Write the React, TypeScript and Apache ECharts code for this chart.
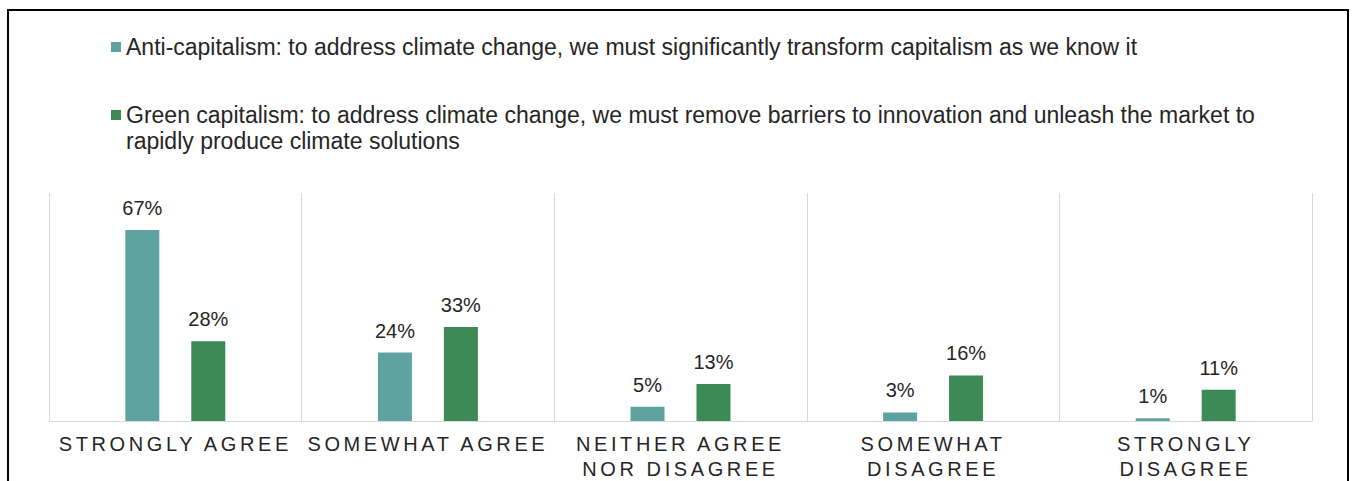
import React, { useEffect, useRef } from "react";
import * as echarts from "echarts";

const categories = [
  "STRONGLY AGREE",
  "SOMEWHAT AGREE",
  "NEITHER AGREE\nNOR DISAGREE",
  "SOMEWHAT\nDISAGREE",
  "STRONGLY\nDISAGREE",
];
const antiName =
  "Anti-capitalism: to address climate change, we must significantly transform capitalism as we know it";
const greenName =
  "Green capitalism: to address climate change, we must remove barriers to innovation and unleash the market to rapidly produce climate solutions";
const antiValues = [67, 24, 5, 3, 1];
const greenValues = [28, 33, 13, 16, 11];

const FONT = "'Liberation Sans', Arial, sans-serif";
const AXIS_FONT = "'Liberation Sans', Arimo, sans-serif";
const TEXT = "#262626";

export default function App() {
  const ref = useRef<HTMLDivElement>(null);
  useEffect(() => {
    if (!ref.current) return;
    const chart = echarts.init(ref.current, undefined, { renderer: "svg" });
    chart.setOption({
      animation: false,
      backgroundColor: "#ffffff",
      textStyle: { fontFamily: FONT },
      graphic: [
        {
          type: "rect",
          shape: { x: 8, y: 10, width: 1340, height: 520 },
          style: { fill: "none", stroke: "#000000", lineWidth: 2 },
          silent: true,
        },
      ],
      legend: {
        orient: "vertical",
        left: 111,
        top: 34,
        padding: 0,
        itemWidth: 10,
        itemHeight: 10,
        itemGap: 16,
        icon: "rect",
        selectedMode: false,
        textStyle: { fontSize: 23, color: TEXT, fontFamily: FONT, lineHeight: 26 },
        formatter: (name: string) =>
          name === greenName ? "\n" + name.replace(" rapidly", "\nrapidly") : name,
        data: [{ name: antiName }, { name: greenName }],
      },
      grid: { left: 49, right: 42, top: 193, bottom: 59, containLabel: false },
      xAxis: {
        type: "category",
        data: categories,
        boundaryGap: true,
        axisLine: { show: true, lineStyle: { color: "#d9d9d9", width: 1 } },
        axisTick: { show: false },
        splitLine: { show: true, lineStyle: { color: "#d9d9d9", width: 1 } },
        axisLabel: {
          interval: 0,
          margin: 10,
          fontSize: 20,
          lineHeight: 25,
          color: TEXT,
          fontFamily: AXIS_FONT,
        },
      },
      yAxis: {
        type: "value",
        min: 0,
        max: 80,
        show: false,
        splitLine: { show: false },
      },
      series: [
        {
          name: antiName,
          type: "bar",
          data: antiValues,
          barWidth: 34,
          barGap: "94%",
          itemStyle: { color: "#5fa3a0" },
          label: {
            show: true,
            position: "top",
            distance: 12,
            formatter: "{c}%",
            fontSize: 20,
            color: TEXT,
            fontFamily: FONT,
          },
        },
        {
          name: greenName,
          type: "bar",
          data: greenValues,
          barWidth: 34,
          barGap: "94%",
          itemStyle: { color: "#3d8a56" },
          label: {
            show: true,
            position: "top",
            distance: 12,
            formatter: "{c}%",
            fontSize: 20,
            color: TEXT,
            fontFamily: FONT,
          },
        },
      ],
    });
    return () => chart.dispose();
  }, []);
  return (
    <>
      <style>{`text[style*="Arimo"]{letter-spacing:3.6px;}`}</style>
      <div
        ref={ref}
        style={{ position: "absolute", left: 0, top: 0, width: 1354, height: 481 }}
      />
    </>
  );
}
